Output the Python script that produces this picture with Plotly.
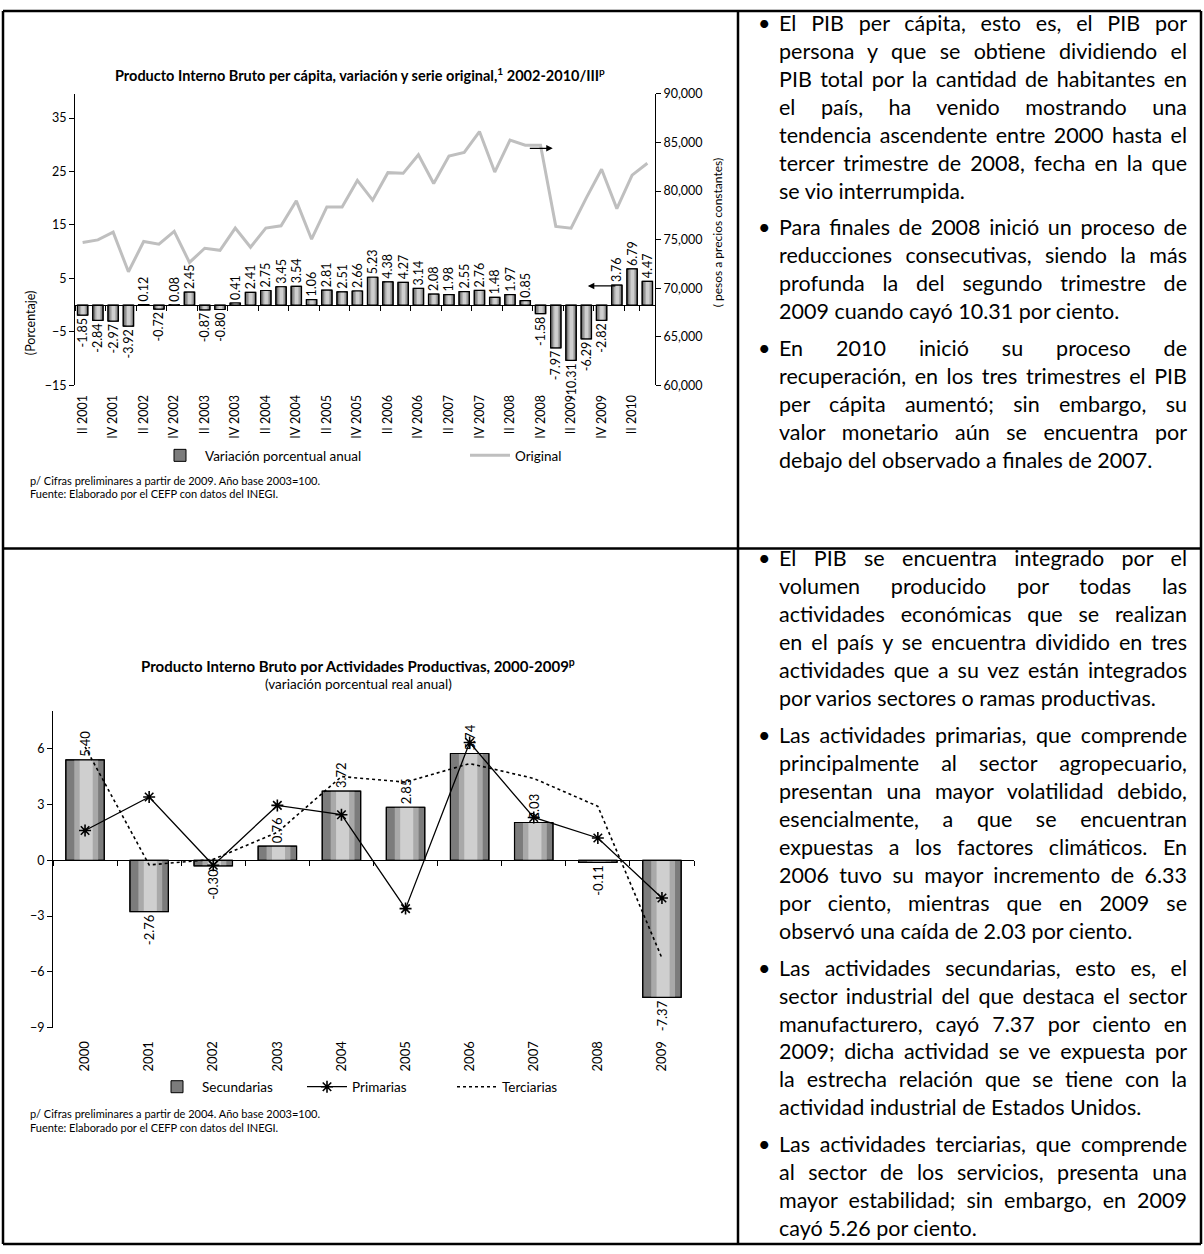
import json
import plotly.graph_objects as go

W, H = 1204, 1254
def px(x): return x / W
def py(y): return 1 - y / H

FONT = "Lato"

# ---------------- data: top chart ----------------
trimestres = ["II 2001", "III 2001", "IV 2001",
              "I 2002", "II 2002", "III 2002", "IV 2002",
              "I 2003", "II 2003", "III 2003", "IV 2003",
              "I 2004", "II 2004", "III 2004", "IV 2004",
              "I 2005", "II 2005", "III 2005", "IV 2005",
              "I 2006", "II 2006", "III 2006", "IV 2006",
              "I 2007", "II 2007", "III 2007", "IV 2007",
              "I 2008", "II 2008", "III 2008", "IV 2008",
              "I 2009", "II 2009", "III 2009", "IV 2009",
              "I 2010", "II 2010", "III 2010"]
variacion_anual = [-1.85, -2.84, -2.97, -3.92, 0.12, -0.72, 0.08, 2.45, -0.87, -0.80,
                   0.41, 2.41, 2.75, 3.45, 3.54, 1.06, 2.81, 2.51, 2.66, 5.23,
                   4.38, 4.27, 3.14, 2.08, 1.98, 2.55, 2.76, 1.48, 1.97, 0.85,
                   -1.58, -7.97, -10.31, -6.29, -2.82, 3.76, 6.79, 4.47]
pib_original = [74710, 74980, 75780, 71700, 74810, 74530, 75850, 72660, 74120, 73910,
                76190, 74220, 76190, 76430, 79000, 75050, 78370, 78370, 81100, 79070,
                81900, 81830, 83740, 80790, 83600, 83980, 86130, 81960, 85250, 84730,
                84730, 76370, 76190, 79310, 82250, 78200, 81650, 82870]
etiquetas_trim = ["II 2001", "IV 2001", "II 2002", "IV 2002", "II 2003", "IV 2003",
                  "II 2004", "IV 2004", "II 2005", "IV 2005", "II 2006", "IV 2006",
                  "II 2007", "IV 2007", "II 2008", "IV 2008", "II 2009", "IV 2009", "II 2010"]

# ---------------- data: bottom chart ----------------
anios = ["2000", "2001", "2002", "2003", "2004", "2005", "2006", "2007", "2008", "2009"]
secundarias = [5.40, -2.76, -0.30, 0.76, 3.72, 2.85, 5.74, 2.03, -0.11, -7.37]
primarias = [1.6, 3.4, -0.27, 2.95, 2.45, -2.6, 6.33, 2.3, 1.2, -2.03]
terciarias = [6.1, -0.25, 0.05, 1.5, 4.5, 4.2, 5.2, 4.4, 2.9, -5.26]

# ---------------- text column ----------------
parrafos_sup = [
    ["El PIB per cápita, esto es, el PIB por",
     "persona y que se obtiene dividiendo el",
     "PIB total por la cantidad de habitantes en",
     "el país, ha venido mostrando una",
     "tendencia ascendente entre 2000 hasta el",
     "tercer trimestre de 2008, fecha en la que",
     "se vio interrumpida."],
    ["Para finales de 2008 inició un proceso de",
     "reducciones consecutivas, siendo la más",
     "profunda la del segundo trimestre de",
     "2009 cuando cayó 10.31 por ciento."],
    ["En 2010 inició su proceso de",
     "recuperación, en los tres trimestres el PIB",
     "per cápita aumentó; sin embargo, su",
     "valor monetario aún se encuentra por",
     "debajo del observado a finales de 2007."],
]
parrafos_inf = [
    ["El PIB se encuentra integrado por el",
     "volumen producido por todas las",
     "actividades económicas que se realizan",
     "en el país y se encuentra dividido en tres",
     "actividades que a su vez están integrados",
     "por varios sectores o ramas productivas."],
    ["Las actividades primarias, que comprende",
     "principalmente al sector agropecuario,",
     "presentan una mayor volatilidad debido,",
     "esencialmente, a que se encuentran",
     "expuestas a los factores climáticos. En",
     "2006 tuvo su mayor incremento de 6.33",
     "por ciento, mientras que en 2009 se",
     "observó una caída de 2.03 por ciento."],
    ["Las actividades secundarias, esto es, el",
     "sector industrial del que destaca el sector",
     "manufacturero, cayó 7.37 por ciento en",
     "2009; dicha actividad se ve expuesta por",
     "la estrecha relación que se tiene con la",
     "actividad industrial de Estados Unidos."],
    ["Las actividades terciarias, que comprende",
     "al sector de los servicios, presenta una",
     "mayor estabilidad; sin embargo, en 2009",
     "cayó 5.26 por ciento."],
]

fig = go.Figure()

# ---------- bars (layered to mimic the gradient fill) ----------
def bar_layers(x, y, xa, ya, width, legend, name, tsize):
    fig.add_trace(go.Bar(x=x, y=y, width=width, xaxis=xa, yaxis=ya, name=name,
                         marker=dict(color="#7c7c7c", line=dict(color="black", width=1)),
                         legend=legend, showlegend=True, hoverinfo="skip"))
    fig.add_trace(go.Bar(x=x, y=y, width=width * 0.62, offset=-width * 0.28, xaxis=xa, yaxis=ya,
                         marker=dict(color="#a9a9a9", line=dict(width=0)),
                         showlegend=False, hoverinfo="skip"))
    fig.add_trace(go.Bar(x=x, y=y, width=width * 0.34, offset=-width * 0.14, xaxis=xa, yaxis=ya,
                         marker=dict(color="#cfcfcf", line=dict(width=0)),
                         showlegend=False, hoverinfo="skip"))
    fig.add_trace(go.Bar(x=x, y=y, width=width, xaxis=xa, yaxis=ya,
                         marker=dict(color="rgba(0,0,0,0)", line=dict(color="black", width=1.2)),
                         texttemplate="%{y:.2f}", textposition="outside", textangle=-90,
                         textfont=dict(family=FONT, size=tsize, color="black"),
                         cliponaxis=False, constraintext="none",
                         showlegend=False, hoverinfo="skip"))

bar_layers(trimestres, variacion_anual, "x", "y", 0.68, "legend", "Variación porcentual anual", 12.5)

fig.add_trace(go.Scatter(x=trimestres, y=pib_original, xaxis="x", yaxis="y2", mode="lines",
                         line=dict(color="#bfbfbf", width=3), name="Original",
                         legend="legend", hoverinfo="skip"))
fig.add_trace(go.Scatter(x=trimestres, y=[None] * len(trimestres), xaxis="x3", yaxis="y",
                         showlegend=False, hoverinfo="skip"))

bar_layers(anios, secundarias, "x2", "y3", 0.6, "legend2", "Secundarias", 13)
fig.add_trace(go.Scatter(x=anios, y=primarias, xaxis="x2", yaxis="y3", mode="lines+markers",
                         line=dict(color="black", width=1.3),
                         marker=dict(symbol="asterisk-open", size=10, color="black",
                                     line=dict(color="black", width=1.6)),
                         name="Primarias", legend="legend2", hoverinfo="skip", cliponaxis=False))
fig.add_trace(go.Scatter(x=anios, y=terciarias, xaxis="x2", yaxis="y3", mode="lines",
                         line=dict(color="black", width=1.6, dash="dot"),
                         name="Terciarias", legend="legend2", hoverinfo="skip"))
fig.add_trace(go.Scatter(x=anios, y=[None] * len(anios), xaxis="x4", yaxis="y3",
                         showlegend=False, hoverinfo="skip"))

# ---------- axes ----------
top_dom = [py(382), py(87)]
top_range = [-15, 39.5]
top_zero = top_dom[0] + (0 - top_range[0]) / (top_range[1] - top_range[0]) * (top_dom[1] - top_dom[0])
bot_dom = [py(1032), py(712)]
bot_range = [-9, 8]
bot_zero = bot_dom[0] + (0 - bot_range[0]) / (bot_range[1] - bot_range[0]) * (bot_dom[1] - bot_dom[0])

tickf = dict(family=FONT, size=12.5, color="black")
fig.update_layout(
    xaxis=dict(domain=[px(75), px(655)], anchor="y", type="category",
               range=[-0.5, len(trimestres) - 0.5], tickvals=etiquetas_trim, ticktext=etiquetas_trim,
               tickangle=-90, showline=False, ticks="", showgrid=False, zeroline=False,
               tickfont=tickf, ticklabelstandoff=6),
    yaxis=dict(domain=top_dom, anchor="x", range=top_range, tick0=-15, dtick=10,
               showline=True, linecolor="black", linewidth=1, ticks="outside", ticklen=5,
               tickcolor="black", showgrid=False, zeroline=False, tickfont=tickf),
    yaxis2=dict(overlaying="y", side="right", anchor="x", range=[60000, 90000], dtick=5000,
                tickformat=",", showline=True, linecolor="black", linewidth=1, ticks="outside",
                ticklen=5, tickcolor="black", showgrid=False, zeroline=False, tickfont=tickf),
    xaxis3=dict(overlaying="x", matches="x", anchor="free", position=top_zero, type="category",
                tickvals=etiquetas_trim, tickson="boundaries", ticks="outside", ticklen=5,
                tickcolor="black", showticklabels=False, showline=True, linecolor="black",
                linewidth=1, showgrid=False, zeroline=False),
    xaxis2=dict(domain=[px(53), px(694)], anchor="y3", type="category",
                range=[-0.5, len(anios) - 0.5], tickangle=-90, showline=False, ticks="",
                showgrid=False, zeroline=False, tickfont=dict(family=FONT, size=13, color="black"),
                ticklabelstandoff=10),
    yaxis3=dict(domain=bot_dom, anchor="x2", range=bot_range, tick0=-9, dtick=3,
                showline=True, linecolor="black", linewidth=1, ticks="outside", ticklen=5,
                tickcolor="black", showgrid=False, zeroline=False, tickfont=tickf),
    xaxis4=dict(overlaying="x2", matches="x2", anchor="free", position=bot_zero, type="category",
                tickson="boundaries", ticks="outside", ticklen=5, tickcolor="black",
                showticklabels=False, showline=True, linecolor="black", linewidth=1,
                showgrid=False, zeroline=False),
)

fig.update_layout(
    barmode="overlay", width=W, height=H, margin=dict(l=0, r=0, t=0, b=0),
    paper_bgcolor="white", plot_bgcolor="rgba(0,0,0,0)",
    font=dict(family=FONT, size=12.5, color="black"),
    legend=dict(orientation="h", x=px(155), xanchor="left", y=py(453), yanchor="middle",
                font=dict(family=FONT, size=13.5), bgcolor="rgba(0,0,0,0)",
                entrywidth=255, entrywidthmode="pixels", itemwidth=40, traceorder="normal"),
    legend2=dict(orientation="h", x=px(152), xanchor="left", y=py(1092), yanchor="middle",
                 font=dict(family=FONT, size=13.5), bgcolor="rgba(0,0,0,0)",
                 entrywidth=95, entrywidthmode="pixels", itemwidth=40, traceorder="normal"),
)

ann = []
def A(text, x, y, size=12.5, xanchor="center", **kw):
    d = dict(text=text, x=px(x), y=py(y), xref="paper", yref="paper", showarrow=False,
             xanchor=xanchor, yanchor="middle",
             font=dict(family=FONT, size=size, color="black"))
    d.update(kw)
    ann.append(d)

# titles and notes
A("<b>Producto Interno Bruto per cápita, variación y serie original,<sup>1</sup> 2002-2010/III<sup>p</sup></b>",
  360, 67, 14.5)
A("(Porcentaje)", 30, 319, 12.5, textangle=-90)
A("( pesos a precios constantes)", 717, 228, 12, textangle=-90)
A("p/ Cifras preliminares a partir de 2009. Año base 2003=100.", 28, 478, 11, xanchor="left")
A("Fuente: Elaborado por el CEFP con datos del INEGI.", 28, 491, 11, xanchor="left")

A("<b>Producto Interno Bruto por Actividades Productivas, 2000-2009<sup>p</sup></b>", 358, 665, 15)
A("(variación porcentual real anual)", 358, 684, 13.5)
A("p/ Cifras preliminares a partir de 2004. Año base 2003=100.", 28, 1119, 11, xanchor="left")
A("Fuente: Elaborado por el CEFP con datos del INEGI.", 28, 1133, 11, xanchor="left")

# arrows (top chart)
ann.append(dict(x=30.8, y=84400, ax=29.2, ay=84400, xref="x", yref="y2", axref="x", ayref="y2",
                text="", showarrow=True, arrowhead=2, arrowsize=1, arrowwidth=1.3, arrowcolor="black"))
ann.append(dict(x=33.1, y=3.6, ax=35.0, ay=3.6, xref="x", yref="y", axref="x", ayref="y",
                text="", showarrow=True, arrowhead=2, arrowsize=1, arrowwidth=1.3, arrowcolor="black"))

# end labels (bottom chart)
for serie in (primarias, terciarias):
    ann.append(dict(x=anios[-1], y=serie[-1], xref="x2", yref="y3", text=f"{serie[-1]:.2f}",
                    showarrow=False, xanchor="left", yanchor="middle", xshift=20,
                    font=dict(family=FONT, size=12.5, color="black")))

# text column
TXT_SIZE = 21.5
LINE = 28.3
PARA = 9
X_BUL, X_TXT, X_END = 756, 778, 1186
justified = []
def column(parrafos, y0):
    y = y0
    for p in parrafos:
        A("•", X_BUL, y, TXT_SIZE, xanchor="left")
        for i, line in enumerate(p):
            A(line, X_TXT, y, TXT_SIZE, xanchor="left", align="left", borderpad=0)
            if i < len(p) - 1:
                justified.append(line)
            y += LINE
        y += PARA
column(parrafos_sup, 15)
column(parrafos_inf, 557)

fig.update_layout(annotations=ann)

# table borders
shapes = []
for (x0, y0, x1, y1) in [(3, 3, 1201, 3), (3, 1251, 1201, 1251), (3, 3, 3, 1251),
                         (1201, 3, 1201, 1251), (738, 3, 738, 1251), (3, 547, 1201, 547)]:
    shapes.append(dict(type="line", xref="paper", yref="paper", x0=px(x0), y0=py(y0),
                       x1=px(x1), y1=py(y1), line=dict(color="black", width=2.5)))
fig.update_layout(shapes=shapes)

js = """
document.body.style.margin='0';
(function(){
 var gd = document.getElementById('{plot_id}');
 var J = %s; var S = {}; J.forEach(function(s){S[s]=1;});
 var target = %f;
 function run(){
   var els = gd.querySelectorAll('text.annotation-text');
   els.forEach(function(el){
     var t = el.textContent;
     if(!S[t]) return;
     el.style.wordSpacing = '0px';
     var n = (t.match(/ /g)||[]).length;
     if(!n) return;
     var w = el.getComputedTextLength();
     el.style.wordSpacing = ((target - w)/n) + 'px';
   });
 }
 run();
 if (gd && gd.on) gd.on('plotly_afterplot', run);
 setTimeout(run, 50); setTimeout(run, 400); setTimeout(run, 1200);
 if (document.fonts && document.fonts.ready) document.fonts.ready.then(run);
})();
""" % (json.dumps(justified), X_END - X_TXT)

fig.write_html("out.html", post_script=js, config={"displayModeBar": False})
